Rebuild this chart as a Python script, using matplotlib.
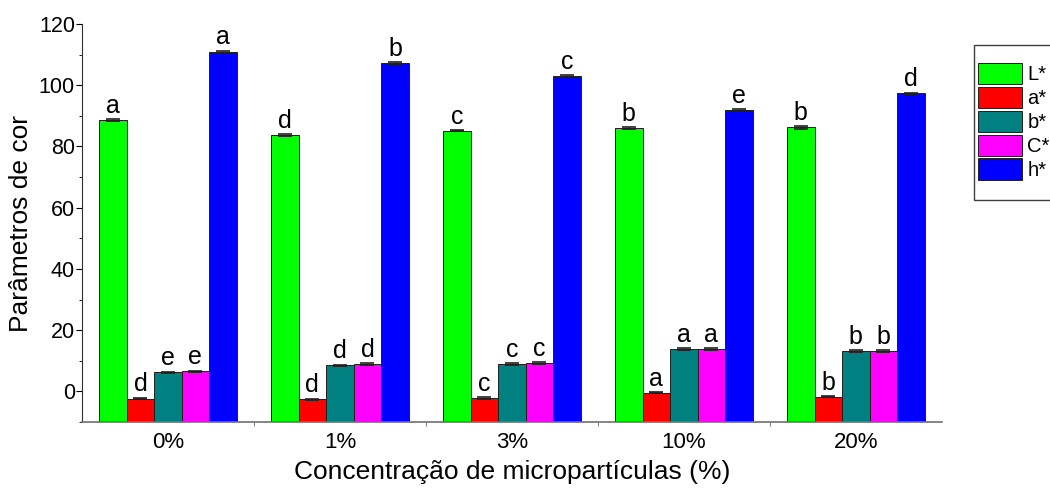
import numpy as np
import matplotlib
matplotlib.use("Agg")
import matplotlib.pyplot as plt
from matplotlib.patches import Rectangle
from matplotlib.ticker import MultipleLocator, FixedLocator

plt.rcParams['font.family'] = ['Liberation Sans', 'DejaVu Sans']

groups = ['0%', '1%', '3%', '10%', '20%']
series = ['L*', 'a*', 'b*', 'C*', 'h*']
colors = ['#00FF00', '#FF0000', '#008080', '#FF00FF', '#0000FF']

L_vals = [88.6, 83.7, 85.1, 86.0, 86.2]
a_vals = [-2.3, -2.6, -2.1, -0.4, -1.7]
b_vals = [6.2, 8.6, 9.0, 13.9, 13.1]
C_vals = [6.6, 9.0, 9.3, 13.9, 13.2]
h_vals = [110.8, 107.2, 103.0, 91.8, 97.4]

L_err = [0.2, 0.3, 0.2, 0.3, 0.4]
a_err = [0.3, 0.2, 0.2, 0.2, 0.2]
b_err = [0.2, 0.2, 0.2, 0.2, 0.3]
C_err = [0.2, 0.2, 0.2, 0.2, 0.2]
h_err = [0.4, 0.3, 0.3, 0.3, 0.2]

L_let = ['a', 'd', 'c', 'b', 'b']
a_let = ['d', 'd', 'c', 'a', 'b']
b_let = ['e', 'd', 'c', 'a', 'b']
C_let = ['e', 'd', 'c', 'a', 'b']
h_let = ['a', 'b', 'c', 'e', 'd']

values = [L_vals, a_vals, b_vals, C_vals, h_vals]
errors = [L_err, a_err, b_err, C_err, h_err]
letters = [L_let, a_let, b_let, C_let, h_let]

ymin, ymax = -10, 120
width = 0.16
x = np.arange(len(groups))

fig = plt.figure(figsize=(10.5, 4.88), dpi=100)
ax = fig.add_axes([0.078, 0.135, 0.819, 0.816])

handles = []
for i in range(len(series)):
    pos = x + (i - 2) * width
    v = np.array(values[i])
    # bars grow from the bottom of the axis, Origin-style
    bars = ax.bar(pos, v - ymin, width, bottom=ymin, color=colors[i],
                  edgecolor='#202020', linewidth=0.7, zorder=2)
    ax.errorbar(pos, v, yerr=errors[i], fmt='none', ecolor='#202020',
                elinewidth=1.0, capsize=5, capthick=1.2, zorder=3)
    for p, val, e, t in zip(pos, v, errors[i], letters[i]):
        ax.text(p, val + e + 0.5, t, ha='center', va='bottom', fontsize=18)
    handles.append(bars[0])

ax.set_xlim(-0.5, len(groups) - 0.5)
ax.set_ylim(ymin, ymax)
ax.set_xticks(x)
ax.set_xticklabels(groups, fontsize=16)
ax.xaxis.set_minor_locator(FixedLocator(x[:-1] + 0.5))
ax.tick_params(axis='x', which='major', length=0, pad=7)
ax.tick_params(axis='x', which='minor', length=3, color='#606060')

ax.set_yticks(np.arange(0, 121, 20))
ax.yaxis.set_minor_locator(MultipleLocator(10))
ax.tick_params(axis='y', which='major', labelsize=15.5, length=4, pad=1)
ax.tick_params(axis='y', which='minor', length=2)

for s in ['top', 'right']:
    ax.spines[s].set_visible(False)
ax.spines['left'].set_color('#303030')
ax.spines['bottom'].set_color('#707070')
ax.spines['bottom'].set_linewidth(1.2)

ax.set_ylabel('Parâmetros de cor', fontsize=19, labelpad=4)
ax.set_xlabel('Concentração de micropartículas (%)', fontsize=19, labelpad=5)

# legend box runs off the right edge of the figure
fig.patches.append(Rectangle((974 / 1050, 1 - 200 / 488), 0.2, 155 / 488,
                             transform=fig.transFigure, facecolor='white',
                             edgecolor='#404040', linewidth=1.0, zorder=1))
leg = fig.legend(handles, series, loc='upper left',
                 bbox_to_anchor=(976 / 1050, 1 - 61 / 488),
                 fontsize=14.5, frameon=False,
                 handlelength=2.2, handleheight=1.25, handletextpad=0.25,
                 labelspacing=0.12, borderpad=0.1, borderaxespad=0)

fig.savefig('out.png', dpi=100)
